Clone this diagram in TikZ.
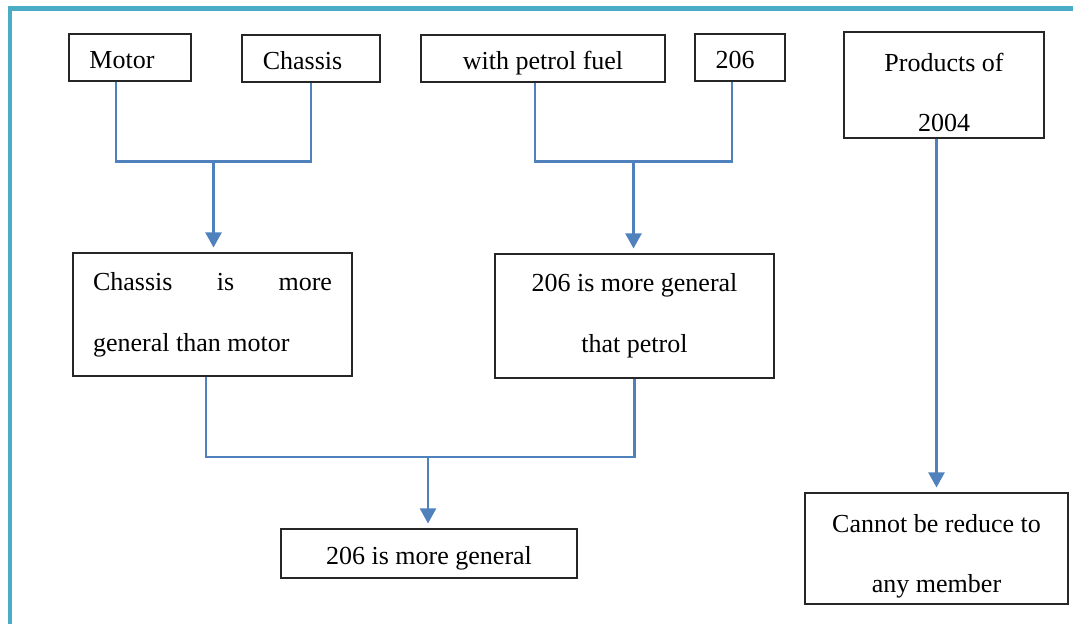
\documentclass[tikz,border=0pt]{standalone}
\usepackage{fontspec}
\setmainfont{Liberation Serif}
\usepackage{tikz}
\usetikzlibrary{calc,positioning,shapes,arrows.meta}

\definecolor{framecol}{HTML}{4BACC6}
\definecolor{linkcol}{HTML}{4F81BD}

\newcommand{\boxfont}{\fontsize{14.8}{34.6}\selectfont\hyphenpenalty 10000\relax}
% one line of text, baseline below the middle of its box
\newcommand{\lowtext}[1]{\raisebox{-6.3pt}[0pt][0pt]{#1}}
\newcommand{\topgap}{\rule{0pt}{19pt}}

\tikzset{
	box/.style = {shape=rectangle, draw=black!85, line width = 0.6pt, inner sep = 0pt,
		font=\boxfont},
	link/.style = {draw=linkcol, line width = 1.2pt},
	flow/.style = {link, -{Triangle[width=0.32cm,length=0.3cm,fill=linkcol]}, shorten > = 0.1cm}
}

\begin{document}
\begin{tikzpicture}[scale = 1.0]
	\useasboundingbox (0,0) rectangle (21.46,-12.46);
	\draw [framecol, line width = 2.6pt] (0.2,-12.6) -- (0.2,-0.17) -- (21.6,-0.17);
	
	\node(motor) at (2.6,-1.15)[box, minimum width = 2.44cm, minimum height = 0.94cm] {\lowtext{Motor}\kern0.32cm};
	\node(chassis) at (6.22,-1.17)[box, minimum width = 2.76cm, minimum height = 0.94cm] {\lowtext{Chassis}\kern0.34cm};
	\node(petrol) at (10.86,-1.17)[box, minimum width = 4.88cm, minimum height = 0.94cm] {\lowtext{with petrol fuel}};
	\node(n206) at (14.8,-1.15)[box, minimum width = 1.8cm, minimum height = 0.94cm] {\lowtext{206}\kern0.2cm};
	\node [align = center] (products) at (18.88,-1.7)[box, minimum width = 4.0cm, minimum height = 2.12cm] {\topgap Products of\\2004};
	
	\node [align = justify, text width = 4.78cm] (chassisgen) at (4.25,-6.29)[box, minimum width = 5.58cm, minimum height = 2.46cm] {Chassis is more general than motor};
	\node [align = center] (petrolgen) at (12.69,-6.32)[box, minimum width = 5.58cm, minimum height = 2.48cm] {206 is more general\\that petrol};
	\node(general) at (8.58,-11.07)[box, minimum width = 5.92cm, minimum height = 0.98cm] {\lowtext{206 is more general}};
	\node [align = center] (cannot) at (18.73,-10.97)[box, minimum width = 5.26cm, minimum height = 2.22cm] {\topgap Cannot be reduce to\\any member};
	
	\coordinate (j1) at (4.27,-3.23);
	\coordinate (j2) at (12.67,-3.23);
	\coordinate (j3) at (8.56,-9.14);
	
	% brackets joining the pairs
	\draw [link] ([xshift=-0.28cm]motor.south) |- (j1) -| (chassis.south);
	\draw [link] ([xshift=-0.16cm]petrol.south) |- (j2) -| ([xshift=-0.16cm]n206.south);
	\draw [link] ([xshift=-0.13cm]chassisgen.south) |- (j3) -| (petrolgen.south);
	
	\draw [flow] (j1) -- (j1 |- chassisgen.north);
	\draw [flow] (j2) -- (j2 |- petrolgen.north);
	\draw [flow] (j3) -- (j3 |- general.north);
	\draw [flow] (products.south -| cannot.north) -- (cannot.north);
\end{tikzpicture}
\end{document}
